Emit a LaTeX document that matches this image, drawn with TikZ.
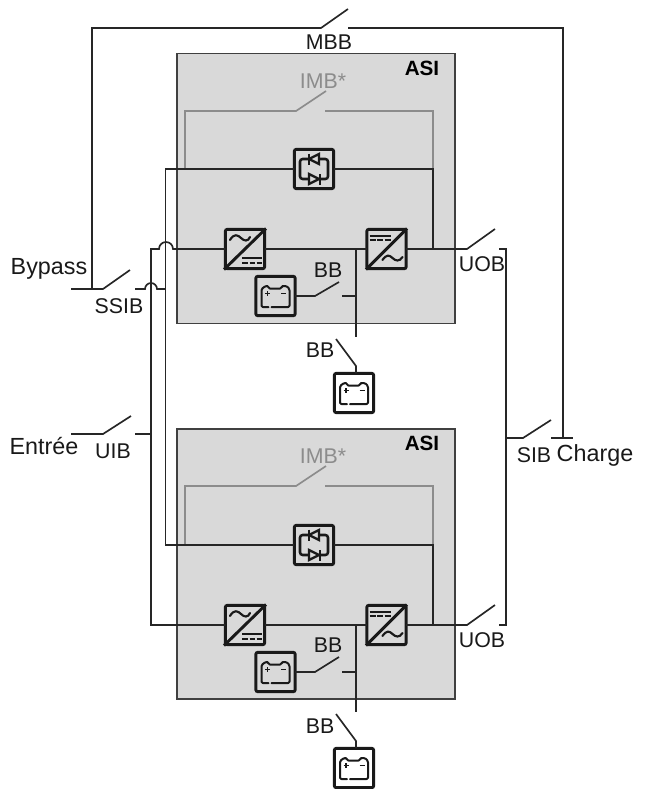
\documentclass[tikz,border=0pt]{standalone}
\usepackage{fontspec}
\setmainfont{Liberation Sans}
\definecolor{boxgrey}{HTML}{D9D9D9}
\definecolor{imbgrey}{HTML}{8C8C8C}
\tikzset{
  wire/.style={draw=black!85,line width=1.25pt,line cap=butt},
  graywire/.style={draw=imbgrey,line width=1.25pt},
  asibox/.style={draw=black!75,line width=.8pt,fill=boxgrey},
  icon/.style={draw=black!90,line width=2.2pt,rounded corners=1.5pt,fill=none,minimum size=29.5pt,inner sep=0pt,outer sep=0pt},
  lbl/.style={font=\fontsize{16}{16}\selectfont,text=black!90,inner sep=0pt},
  lblbig/.style={font=\fontsize{17.5}{17.5}\selectfont,text=black!90,inner sep=0pt},
  glbl/.style={font=\fontsize{16}{16}\selectfont,text=imbgrey,inner sep=0pt},
  asilbl/.style={font=\fontsize{15.5}{15.5}\selectfont\bfseries,text=black,inner sep=0pt},
  pics/battery/.style={code={
    \draw[line width=1.5pt,line cap=round,line join=round,rounded corners=1pt,draw=black!90]
      (-7,11) -- (-14,11) -- (-14,-7) -- (-10,-10) -- (-7,-10) -- (-7,-7.5) -- (6,-7.5) -- (6,-10) -- (11,-10) -- (14,-7) -- (14,11) -- (-4,11);
    \draw[line width=1.3pt,draw=black!90] (-10.5,-2.5) -- (-5.5,-2.5) (-8,-5) -- (-8,0) (5.5,-2.5) -- (10.5,-2.5);
  }},
  pics/acdc/.style={code={
    \draw[line width=2.2pt,draw=black!90] (-21,20.5) -- (21,-20.5);
    \draw[line width=1.6pt,draw=black!90,line cap=round] (-15,-9) .. controls (-11,-16) and (-7,-14) .. (-4,-11) .. controls (-1,-8) and (3,-7) .. (5,-12);
    \draw[line width=1.5pt,draw=black!90] (-3,9) -- (17,9);
    \draw[line width=1.5pt,draw=black!90] (-3,13.5) -- (3,13.5) (4.5,13.5) -- (10,13.5) (11.5,13.5) -- (17,13.5);
  }},
  pics/dcac/.style={code={
    \draw[line width=2.2pt,draw=black!90] (-20.5,20.5) -- (20.5,-20.5);
    \draw[line width=1.6pt,draw=black!90,line cap=round] (-4,11) .. controls (0,5) and (3,6) .. (6,9) .. controls (9,12) and (13,13) .. (16,8);
    \draw[line width=1.5pt,draw=black!90] (-17,-13.5) -- (4,-13.5);
    \draw[line width=1.5pt,draw=black!90] (-17,-9) -- (-11,-9) (-9.5,-9) -- (-3.5,-9) (-2,-9) -- (4,-9);
  }},
  pics/ssw/.style={code={
    \draw[line width=1.9pt,draw=black!90,rounded corners=2pt] (-5,-10) -- (-14,-10) -- (-14,10) -- (-5,10)
      (5,-10) -- (14,-10) -- (14,10) -- (5,10);
    \draw[line width=1.7pt,draw=black!90] (-5,-10) -- (5,-15) -- (5,-5) -- cycle;
    \draw[line width=1.9pt,draw=black!90] (-5,-15.5) -- (-5,-4.5);
    \draw[line width=1.7pt,draw=black!90] (5,10) -- (-5,15) -- (-5,5) -- cycle;
    \draw[line width=1.9pt,draw=black!90] (6,15.5) -- (6,4.5);
  }}
}
\begin{document}
\begin{tikzpicture}[x=0.75pt,y=-0.75pt]
\useasboundingbox (0,0) rectangle (646,789);
% UPS boxes
\node[asibox,minimum width=208.5pt,minimum height=203pt,inner sep=0pt] (ups1) at (316,188.5) {};
\node[asibox,minimum width=208.5pt,minimum height=202.5pt,inner sep=0pt] (ups2) at (316,564) {};

% Icons
\foreach \n/\cx/\cy in {rect1/245/249,rect2/245/625}{
  \node[icon] (\n) at (\cx,\cy) {};
  \pic at (\cx,\cy) {acdc};
}
\foreach \n/\cx/\cy in {inv1/386.5/249,inv2/386.5/625}{
  \node[icon] (\n) at (\cx,\cy) {};
  \pic at (\cx,\cy) {dcac};
}
\foreach \n/\cx/\cy in {st1/314/169,st2/314/545}{
  \node[icon] (\n) at (\cx,\cy) {};
  \pic at (\cx,\cy) {ssw};
}
\foreach \n/\cx/\cy in {bati1/275.5/296,bati2/275.5/672,bate1/354/393,bate2/354/768}{
  \node[icon] (\n) at (\cx,\cy) {};
  \pic at (\cx,\cy) {battery};
}

% Free ends
\coordinate (mbbA) at (321,28);
\coordinate (mbbT) at (348,9);
\coordinate (mbbB) at (348,28);
\coordinate (tee) at (563,28);
\coordinate (loadj) at (563,438);
\coordinate (byS) at (71,289);
\coordinate (byA) at (103,289);
\coordinate (byT) at (130,270);
\coordinate (topL) at (92,28);
\coordinate (byJ) at (92,289);
\coordinate (hinge1) at (356,366);
\coordinate (hinge2) at (356,741);

% Grey maintenance bypass
\foreach \y/\bot/\nm in {111/169/a,486/545/b}{
  \draw[graywire] (185,\bot) -- (185,\y) -- (296,\y) -- (326,\y-20);
  \draw[graywire] (325,\y) -- (433,\y) -- (433,\bot);
}

% MBB
\draw[wire] (byJ) -- (topL) -- (mbbA) -- (mbbT);
\draw[wire] (mbbB) -- (tee) -- (loadj);
\draw[wire] (551,438) -- (573,438);

% SSIB
\draw[wire] (byS) -- (byA) -- (byT);
\draw[wire] (135,289) -- (145,289) arc[start angle=180,end angle=360,radius=6] -- (165.5,289);

% Static bus
\draw[wire] (st1.west) -- (165.5,169) -- (165.5,545) -- (st2.west);
% Input bus
\draw[wire] (rect1.west) -- (173,249) arc[start angle=0,end angle=-180,radius=7] -- (151,249) -- (151,625) -- (rect2.west);
% UIB
\draw[wire] (71,434) -- (103,434) -- (131,416);
\draw[wire] (135,434) -- (151,434);

% UPS 1 power rail
\draw[wire] (rect1.east) -- (inv1.west);
\draw[wire] (st1.east) -- (433,169) -- (433,249);
\draw[wire] (inv1.east) -- (467,249) -- (495,229);
\draw[wire] (bati1.east) -- (315,296) -- (339,282);
\draw[wire] (342,296) -- (356,296);
\draw[wire] (356,249) -- (356,337);
\draw[wire] (hinge1 |- bate1.north) -- (hinge1) -- (336,339);

% UPS 2 power rail
\draw[wire] (rect2.east) -- (inv2.west);
\draw[wire] (st2.east) -- (433,545) -- (433,625);
\draw[wire] (inv2.east) -- (467,625) -- (495,605);
\draw[wire] (bati2.east) -- (315,672) -- (339,657);
\draw[wire] (342,672) -- (356,672);
\draw[wire] (356,625) -- (356,712);
\draw[wire] (hinge2 |- bate2.north) -- (hinge2) -- (336,714);

% Output bus & SIB
\draw[wire] (499,249) -- (506,249) -- (506,625) -- (499,625);
\draw[wire] (506,438) -- (523,438) -- (551,420);

% Labels
\node[lbl] (lmbb) at (329,42) {MBB};
\node[lblbig] (lby) at (49,269) {Bypass};
\node[lbl] (lssib) at (119,306) {SSIB};
\node[lblbig] (lent) at (44,446) {Entrée};
\node[lbl] (luib) at (113,451) {UIB};
\node[lbl] (lsib) at (534,455) {SIB};
\node[lblbig] (lchg) at (595,455) {Charge};
\node[lbl] (luob1) at (482,264) {UOB};
\node[lbl] (luob2) at (482,640) {UOB};
\node[lbl] (lbb1) at (328,270) {BB};
\node[lbl] (lbb2) at (320,350) {BB};
\node[lbl] (lbb3) at (328,645) {BB};
\node[lbl] (lbb4) at (320,726) {BB};
\node[glbl] (limb1) at (323,81) {IMB*};
\node[glbl] (limb2) at (323,456) {IMB*};
\node[asilbl] (lasi1) at (422,68) {ASI};
\node[asilbl] (lasi2) at (422,443) {ASI};
\end{tikzpicture}
\end{document}
